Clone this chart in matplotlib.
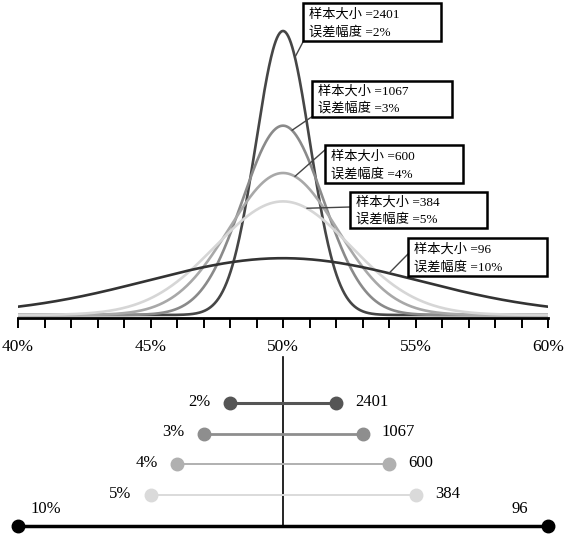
import numpy as np
import matplotlib.pyplot as plt
from matplotlib.patches import Rectangle

# data
margins = [2, 3, 4, 5, 10]            # 误差幅度 (%)
sizes = [2401, 1067, 600, 384, 96]    # 样本大小
center = 50                           # 50%
tick_values = list(range(40, 61))
tick_labels = ['40%', '45%', '50%', '55%', '60%']

# styles
curve_colors = ['#464646', '#8a8a8a', '#a8a8a8', '#d6d6d6', '#333333']
dot_colors = ['#555555', '#8e8e8e', '#b0b0b0', '#dadada', '#000000']
bar_widths = [2.2, 2.0, 1.4, 1.4, 2.5]
peak_2 = 284   # height of the 2% curve, px

W, H = 566, 534
fig = plt.figure(figsize=(W / 100, H / 100), dpi=100)


def fx(px):
    return px / W


def fy(py):
    return 1 - py / H


serif = ['Liberation Serif', 'Noto Sans CJK SC']

# ---- top: sampling distributions
ax = fig.add_axes([fx(18), fy(318), fx(530), 318 / H])
x = np.linspace(40, 60, 801)
curves = []
for e, c in zip(margins, curve_colors):
    sigma = e / 1.96
    y = peak_2 * margins[0] / e * np.exp(-0.5 * ((x - center) / sigma) ** 2)
    curves.append(y)
    ax.plot(x, y, color=c, lw=1.9, solid_capstyle='round')

ax.set_xlim(40, 60)
ax.set_ylim(-3, 315)
for s in ['left', 'top', 'right']:
    ax.spines[s].set_visible(False)
ax.spines['bottom'].set_linewidth(2)
ax.set_yticks([])
ax.set_xticks(tick_values[::5])
ax.set_xticklabels(tick_labels, fontfamily='Liberation Serif', fontsize=12.5)
ax.set_xticks(tick_values, minor=True)
ax.tick_params(axis='x', which='both', length=7, width=1.4, direction='out', pad=8)

# annotation boxes (left, top, width, height in px) and leader targets
box_px = [(303, 3, 138, 38), (312, 81, 140, 36), (325, 145, 138, 38),
          (350, 192, 137, 36), (408, 238, 139, 38)]
leader_from = [(304, 40), (313, 116), (326, 149), (350, 207), (409, 253)]
leader_x = [50.45, 50.34, 50.45, 50.9, 54.0]

for i, (e, n) in enumerate(zip(margins, sizes)):
    bx, by, bw, bh = box_px[i]
    fig.patches.append(Rectangle((fx(bx), fy(by + bh)), bw / W, bh / H,
                                 transform=fig.transFigure, fill=True,
                                 facecolor='white', edgecolor='black', lw=1.8,
                                 zorder=5))
    fig.text(fx(bx + 6), fy(by + bh * 0.3), f'样本大小 ={n}', family=serif,
             fontsize=9.5, va='center', ha='left', zorder=6)
    fig.text(fx(bx + 6), fy(by + bh * 0.76), f'误差幅度 ={e}%', family=serif,
             fontsize=9.5, va='center', ha='left', zorder=6)
    xd = leader_x[i]
    yd = np.interp(xd, x, curves[i])
    lx, ly = leader_from[i]
    ax.annotate('', xy=(xd, yd), xycoords='data',
                xytext=(fx(lx), fy(ly)), textcoords='figure fraction',
                arrowprops=dict(arrowstyle='-', color='#444444', lw=1,
                                shrinkA=0, shrinkB=0))

# ---- bottom: margin of error bars
ax2 = fig.add_axes([fx(18), 0, fx(530), (534 - 350) / H])
ax2.set_xlim(40, 60)
ax2.set_ylim(4.26, -1.72)
ax2.axis('off')
ax2.plot([center, center], [-1.5, 4], color='black', lw=1.2)

for i, (e, n) in enumerate(zip(margins, sizes)):
    ax2.plot([center - e, center + e], [i, i], color=dot_colors[i], lw=bar_widths[i],
             marker='o', ms=9, clip_on=False, zorder=3)
    if i < len(margins) - 1:
        ax2.annotate(f'{e}%', (center - e, i), xytext=(-14, 1), textcoords='offset points',
                     ha='right', va='center', fontsize=12, fontfamily='Liberation Serif')
        ax2.annotate(f'{n}', (center + e, i), xytext=(14, 1), textcoords='offset points',
                     ha='left', va='center', fontsize=12, fontfamily='Liberation Serif')
    else:
        ax2.annotate(f'{e}%', (center - e, i), xytext=(20, 12), textcoords='offset points',
                     ha='center', va='center', fontsize=12, fontfamily='Liberation Serif')
        ax2.annotate(f'{n}', (center + e, i), xytext=(-20, 12), textcoords='offset points',
                     ha='center', va='center', fontsize=12, fontfamily='Liberation Serif')

fig.savefig('out.png', dpi=100)
